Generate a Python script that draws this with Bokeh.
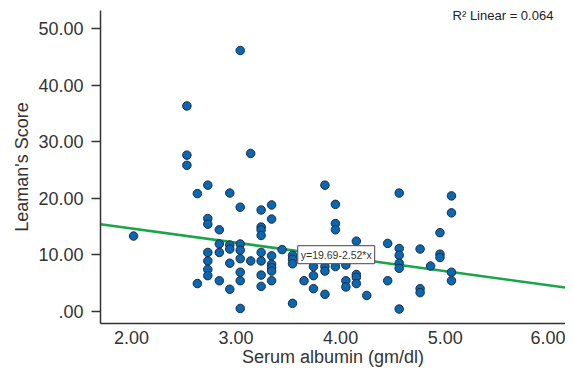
from bokeh.plotting import figure
from bokeh.models import Range1d, FixedTicker, Label, ColumnDataSource
from bokeh.embed import file_html
from bokeh.resources import INLINE

# ---- data ----
albumin = [2.02,
           2.53, 2.53, 2.53,
           2.63, 2.63,
           2.73, 2.73, 2.73, 2.73, 2.73, 2.73, 2.73,
           2.84, 2.84, 2.84, 2.84,
           2.94, 2.94, 2.94, 2.94, 2.94,
           3.04, 3.04, 3.04, 3.04, 3.04, 3.04, 3.04, 3.04,
           3.14, 3.14,
           3.24, 3.24, 3.24, 3.24, 3.24, 3.24, 3.24, 3.24,
           3.34, 3.34, 3.34, 3.34, 3.34, 3.34, 3.34,
           3.44,
           3.54, 3.54, 3.54, 3.54,
           3.65,
           3.74, 3.74, 3.74,
           3.85, 3.85, 3.85, 3.85,
           3.95, 3.95, 3.95, 3.95,
           4.05, 4.05, 4.05,
           4.15, 4.15, 4.15, 4.15,
           4.25,
           4.45, 4.45,
           4.56, 4.56, 4.56, 4.56, 4.56, 4.56,
           4.76, 4.76, 4.76,
           4.86,
           4.95, 4.95, 4.95,
           5.06, 5.06, 5.06, 5.06]
leaman = [13.3,
          36.3, 27.6, 25.8,
          20.8, 4.9,
          22.3, 16.4, 15.4, 10.4, 8.9, 7.4, 6.3,
          14.4, 11.9, 10.4, 5.4,
          20.9, 11.7, 11.0, 8.5, 3.9,
          46.1, 18.4, 11.9, 10.8, 9.3, 6.9, 5.4, 0.5,
          27.9, 8.9,
          17.9, 14.9, 14.4, 13.4, 10.4, 8.9, 6.4, 4.4,
          18.8, 16.3, 9.8, 8.3, 7.7, 7.1, 5.4,
          10.9,
          9.9, 9.2, 8.4, 1.4,
          5.4,
          7.9, 6.3, 4.0,
          22.3, 7.9, 7.1, 3.0,
          18.9, 15.5, 14.4, 7.9,
          8.2, 5.4, 4.3,
          12.4, 6.5, 6.0, 4.9,
          2.8,
          12.0, 5.4,
          20.9, 11.1, 9.9, 8.5, 7.6, 0.4,
          11.0, 4.0, 3.3,
          8.0,
          13.9, 10.1, 9.5,
          20.4, 17.4, 6.9, 5.4]

fit_intercept = 19.69
fit_slope = -2.52
r2_text = "R\u00b2 Linear = 0.064"
eq_text = "y=19.69-2.52*x"

x_ticks = [2, 3, 4, 5, 6]
x_tick_labels = ["2.00", "3.00", "4.00", "5.00", "6.00"]
y_ticks = [0, 10, 20, 30, 40, 50]
y_tick_labels = [".00", "10.00", "20.00", "30.00", "40.00", "50.00"]

x_lo, x_hi = 1.704, 6.150
y_lo, y_hi = -2.16, 53.17

FONT = "Liberation Sans"
AX = "#333333"

p = figure(width=565, height=371, output_backend="svg", toolbar_location=None,
           x_range=Range1d(x_lo, x_hi), y_range=Range1d(y_lo, y_hi),
           min_border_left=100, min_border_right=0, min_border_top=10, min_border_bottom=48)
p.outline_line_color = None
p.xgrid.visible = False
p.ygrid.visible = False
p.background_fill_color = "white"
p.border_fill_color = "white"

# axes
p.xaxis.ticker = FixedTicker(ticks=x_ticks)
p.xaxis.major_label_overrides = {t: l for t, l in zip(x_ticks, x_tick_labels)}
p.yaxis.ticker = FixedTicker(ticks=y_ticks)
p.yaxis.major_label_overrides = {t: l for t, l in zip(y_ticks, y_tick_labels)}

for ax in (p.xaxis[0], p.yaxis[0]):
    ax.axis_line_color = AX
    ax.axis_line_width = 1.5
    ax.major_label_text_font = FONT
    ax.major_label_text_font_size = "18px"
    ax.major_label_text_color = AX
    ax.axis_label_text_font = FONT
    ax.axis_label_text_font_size = "18px"
    ax.axis_label_text_font_style = "normal"
    ax.axis_label_text_color = AX
    ax.minor_tick_line_color = None

p.xaxis.major_tick_line_color = None
p.xaxis.major_tick_out = 0
p.xaxis.major_tick_in = 0
p.xaxis.major_label_standoff = 7
p.xaxis.axis_label = "Serum albumin (gm/dl)"
p.xaxis.axis_label_standoff = 0

p.yaxis.major_tick_line_color = AX
p.yaxis.major_tick_line_width = 1.5
p.yaxis.major_tick_out = 9
p.yaxis.major_tick_in = 0
p.yaxis.major_label_standoff = 8
p.yaxis.axis_label = "Leaman's Score"
p.yaxis.axis_label_standoff = 3

# regression line across the frame
fx = [x_lo, x_hi]
fy = [fit_intercept + fit_slope * v for v in fx]
p.line(fx, fy, line_color="#19a64a", line_width=2.6)

# points
src = ColumnDataSource(dict(x=albumin, y=leaman))
p.scatter("x", "y", source=src, size=8.5, fill_color="#0a67b2",
          line_color="#1c2d40", line_width=1)

# annotations
p.add_layout(Label(x=3.59, y=10.0, text=eq_text, text_font=FONT,
                   text_font_size="10.5px", text_color="#333333",
                   text_baseline="middle", text_align="left",
                   background_fill_color="white", border_line_color="#444444",
                   border_line_width=1, padding=3))
p.add_layout(Label(x=6.034, y=52.3, text=r2_text, text_font=FONT,
                   text_font_size="13px", text_color="#222222",
                   text_baseline="middle", text_align="right"))

open("out.html", "w").write(file_html(p, INLINE))
